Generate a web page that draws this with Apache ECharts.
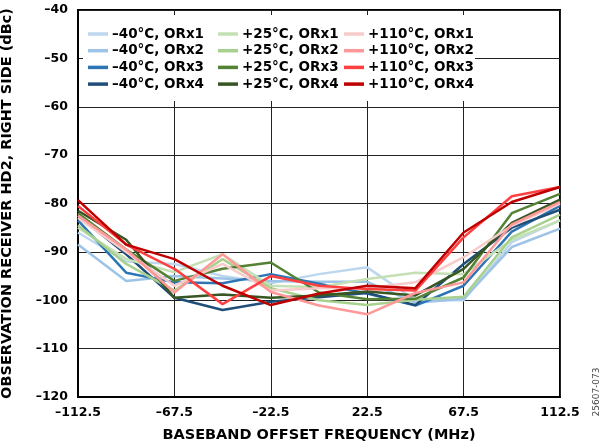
<!DOCTYPE html>
<html>
<head>
<meta charset="utf-8">
<script src="https://cdn.jsdelivr.net/npm/echarts@6/dist/echarts.min.js"></script>
<style>html,body{margin:0;padding:0;background:#fff}#c{width:606px;height:446px}</style>
</head>
<body>
<div id="c"></div>
<script>
// X positions (MHz)
const freqs = [-112.5, -90, -67.5, -45, -22.5, 0, 22.5, 45, 67.5, 90, 112.5];
const xTicks = [-112.5, -67.5, -22.5, 22.5, 67.5, 112.5];
const yTicks = [-120, -110, -100, -90, -80, -70, -60, -50, -40];

// HD2 (dBc)
const m40_orx1 = [-86, -92, -92.5, -95, -96.5, -94.6, -93.2, -100, -100, -88, -83.5];
const m40_orx2 = [-88.5, -96, -95, -95.5, -96, -96.2, -96.2, -100.5, -99.7, -89, -85.2];
const m40_orx3 = [-83.5, -94.3, -96.3, -96.5, -94.6, -96.6, -98.6, -101.1, -97, -85.8, -80.5];
const m40_orx4 = [-82.5, -90.5, -99.5, -102, -100.3, -99.4, -98.5, -101, -92.5, -85, -81.3];
const p25_orx1 = [-85, -91.5, -94.2, -90.5, -97, -97.3, -95.6, -94.3, -94.6, -87.5, -83.5];
const p25_orx2 = [-84.5, -92.5, -98, -91.5, -97.5, -100, -101, -99.9, -99.3, -87, -82.3];
const p25_orx3 = [-82, -89.5, -96, -93.5, -92.2, -98.4, -99.8, -99.7, -95.3, -82, -78];
const p25_orx4 = [-81.5, -87.5, -99.5, -98.8, -99.5, -99, -98.2, -99, -93.5, -84, -79.2];
const p110_orx1 = [-83, -90, -97, -92.5, -98, -97.5, -97.5, -96.3, -91.1, -84.6, -80];
const p110_orx2 = [-82.5, -89.5, -98.4, -90.5, -98.3, -101.1, -102.9, -98.5, -96.3, -84.3, -79.7];
const p110_orx3 = [-80.5, -88.5, -93.5, -100.8, -95, -97, -97.7, -98, -87, -78.5, -76.6];
const p110_orx4 = [-79.3, -88.5, -91.5, -97, -101, -98.6, -97, -97.5, -86, -79.7, -76.6];

const names = [
  '–40°C, ORx1','–40°C, ORx2','–40°C, ORx3','–40°C, ORx4',
  '+25°C, ORx1','+25°C, ORx2','+25°C, ORx3','+25°C, ORx4',
  '+110°C, ORx1','+110°C, ORx2','+110°C, ORx3','+110°C, ORx4'
];
const values = [m40_orx1, m40_orx2, m40_orx3, m40_orx4, p25_orx1, p25_orx2, p25_orx3, p25_orx4, p110_orx1, p110_orx2, p110_orx3, p110_orx4];
const colors = ['#bdd7ee','#9dc3e6','#2e75b6','#1f4e79','#c5e0b4','#a9d18e','#548235','#375623','#f8cbcb','#ff9999','#ff4040','#c00000'];

const FONT = 'DejaVu Sans';
const fmt = v => String(v).replace('-', '–');

const series = names.map((n, i) => ({
  name: n,
  type: 'line',
  data: freqs.map((f, j) => [f, values[i][j]]),
  showSymbol: false,
  symbol: 'none',
  lineStyle: { width: 2.5, color: colors[i] },
  itemStyle: { color: colors[i] },
  z: 2 + i * 0.01
}));

function legendCol(k, left) {
  return {
    orient: 'vertical',
    left: left, top: 27,
    data: names.slice(k * 4, k * 4 + 4),
    icon: 'rect', itemWidth: 20, itemHeight: 3.5,
    itemGap: 2.7,
    padding: 0,
    textStyle: { fontFamily: FONT, fontWeight: 'bold', fontSize: 13.5, color: '#000', lineHeight: 14, padding: [0,0,0,-1] },
    selectedMode: false,
    z: 10
  };
}

const chart = echarts.init(document.getElementById('c'), null, { renderer: 'canvas' });
chart.setOption({
  animation: false,
  backgroundColor: '#fff',
  grid: { left: 78, right: 46, top: 10, bottom: 49, containLabel: false, outerBoundsMode: 'none', show: true, borderColor: '#000', borderWidth: 2, backgroundColor: 'transparent' },
  legend: [legendCol(0, 88), legendCol(1, 218), legendCol(2, 344)],
  graphic: [
    { type: 'rect', shape: { x: 83, y: 15, width: 392, height: 86 }, style: { fill: '#fff' }, z: 5 },
    { type: 'text', x: 597, y: 392, rotation: Math.PI / 2, style: { text: '25607-073', fill: '#444', font: '9px "DejaVu Sans"', textAlign: 'center', textVerticalAlign: 'middle' }, z: 10 }
  ],
  xAxis: {
    type: 'value', min: -112.5, max: 112.5, interval: 45,
    name: 'BASEBAND OFFSET FREQUENCY (MHz)', nameLocation: 'middle', nameGap: 31,
    nameTextStyle: { fontFamily: FONT, fontWeight: 'bold', fontSize: 14.5, color: '#000' },
    axisLine: { show: true, onZero: false, lineStyle: { color: '#000', width: 2 } },
    axisTick: { show: false },
    axisLabel: { formatter: fmt, fontFamily: FONT, fontWeight: 'bold', fontSize: 12.5, color: '#000', margin: 9 },
    splitLine: { show: true, lineStyle: { color: '#222', width: 1 } }
  },
  yAxis: {
    type: 'value', min: -120, max: -40, interval: 10,
    name: 'OBSERVATION RECEIVER HD2, RIGHT SIDE (dBc)', nameLocation: 'middle', nameGap: 63,
    nameTextStyle: { fontFamily: FONT, fontWeight: 'bold', fontSize: 14.5, color: '#000' },
    axisLine: { show: true, onZero: false, lineStyle: { color: '#000', width: 2 } },
    axisTick: { show: false },
    axisLabel: { formatter: fmt, fontFamily: FONT, fontWeight: 'bold', fontSize: 12.5, color: '#000', margin: 10 },
    splitLine: { show: true, lineStyle: { color: '#222', width: 1 } }
  },
  series: series
});
</script>
</body>
</html>
